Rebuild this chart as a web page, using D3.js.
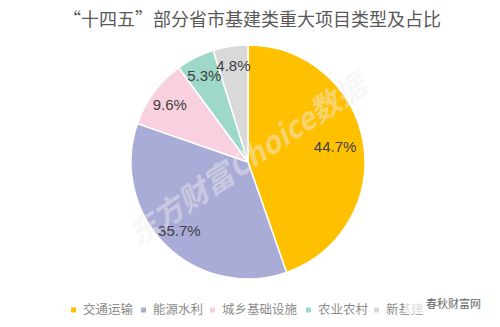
<!DOCTYPE html>
<html>
<head>
<meta charset="utf-8">
<script src="https://cdn.jsdelivr.net/npm/d3@7"></script>
<style>
  body { margin: 0; background: #fff; }
  svg { display: block; }
</style>
</head>
<body>
<div id="vis"></div>
<script>
// data
const categories = ['交通运输', '能源水利', '城乡基础设施', '农业农村', '新基建'];
const shares = [44.7, 35.7, 9.6, 5.3, 4.8];
const colors = ['#FFC000', '#A9ACD7', '#F9D0E0', '#9ED8CB', '#D9D9D9'];

const width = 500;
const height = 327;
const cx = 248, cy = 162, radius = 117;

const svg = d3.select('#vis')
  .append('svg')
  .attr('width', width)
  .attr('height', height);

// title
svg.append('text')
  .attr('x', 252)
  .attr('y', 26)
  .attr('text-anchor', 'middle')
  .style('font-family', '"Noto Sans CJK SC", sans-serif')
  .style('font-size', '18px')
  .style('fill', '#595959')
  .text('“十四五”部分省市基建类重大项目类型及占比');

const data = categories.map((c, i) => ({ name: c, value: shares[i], color: colors[i] }));

const pie = d3.pie().sort(null).value(d => d.value);
const arc = d3.arc().innerRadius(0).outerRadius(radius);
const labelArc = d3.arc().innerRadius(radius * 0.83).outerRadius(radius * 0.83);

const g = svg.append('g').attr('transform', `translate(${cx},${cy})`);
const arcs = pie(data);

g.selectAll('path')
  .data(arcs)
  .enter()
  .append('path')
  .attr('d', arc)
  .style('fill', d => d.data.color)
  .style('stroke', '#fff')
  .style('stroke-width', 1.5);

// watermark, sits under the labels
svg.append('text')
  .attr('transform', 'translate(247,160) rotate(-34)')
  .attr('text-anchor', 'middle')
  .attr('dy', '0.35em')
  .style('font-family', '"Noto Sans CJK SC", sans-serif')
  .style('font-size', '30px')
  .style('font-weight', 'bold')
  .style('font-style', 'italic')
  .style('fill', '#eeeeee')
  .style('opacity', 0.45)
  .text('东方财富Choice数据');

g.selectAll('text.lbl')
  .data(arcs)
  .enter()
  .append('text')
  .attr('class', 'lbl')
  .attr('transform', d => {
    let [x, y] = labelArc.centroid(d);
    // the big slice sits a little deeper inside
    if (d.index === 0) { x *= 0.91; y *= 0.91; }
    return `translate(${x},${y})`;
  })
  .attr('text-anchor', 'middle')
  .attr('dy', '0.35em')
  .style('font-family', '"Liberation Sans", Arial, sans-serif')
  .style('font-size', '15px')
  .style('fill', '#404040')
  .text(d => d.data.value.toFixed(1) + '%');

// legend
const legendX = [71, 141, 210, 306, 374];
const legend = svg.append('g').attr('transform', 'translate(0,310)');
const items = legend.selectAll('g')
  .data(data)
  .enter()
  .append('g')
  .attr('transform', (d, i) => `translate(${legendX[i]},0)`);

items.append('rect')
  .attr('x', 0)
  .attr('y', -2.5)
  .attr('width', 5)
  .attr('height', 5)
  .style('fill', d => d.color);

items.append('text')
  .attr('x', 12)
  .attr('y', 0)
  .attr('dy', '0.35em')
  .style('font-family', '"Noto Sans CJK SC", sans-serif')
  .style('font-size', '12.5px')
  .style('fill', '#8c8c8c')
  .text(d => d.name);

// corner logo
svg.append('rect')
  .attr('x', 404)
  .attr('y', 296)
  .attr('width', 78)
  .attr('height', 18)
  .style('fill', '#fff')
  .style('opacity', 0.7);

svg.append('text')
  .attr('x', 426)
  .attr('y', 304)
  .attr('dy', '0.35em')
  .style('font-family', '"Noto Sans CJK SC", sans-serif')
  .style('font-size', '11px')
  .style('fill', '#666')
  .text('春秋财富网');
</script>
</body>
</html>
